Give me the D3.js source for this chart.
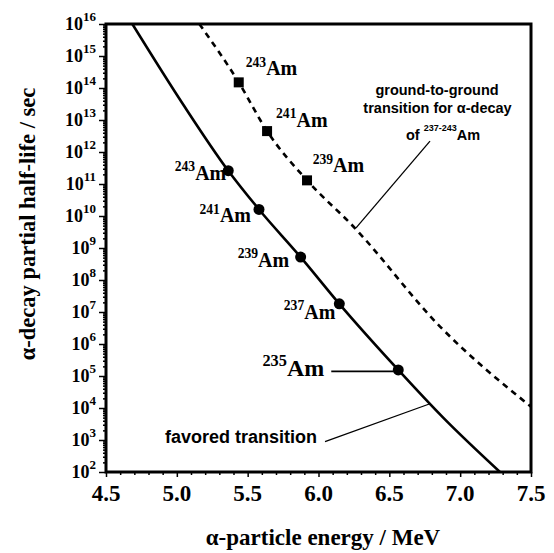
<!DOCTYPE html>
<html>
<head>
<meta charset="utf-8">
<script src="https://cdn.jsdelivr.net/npm/d3@7"></script>
<style>
  html, body { margin: 0; padding: 0; background: #fff; }
  svg { display: block; }
  .serif { font-family: "Liberation Serif", "Times New Roman", Times, serif; font-weight: bold; }
  .sans { font-family: "Liberation Sans", Arial, Helvetica, sans-serif; font-weight: bold; }
</style>
</head>
<body>
<svg id="chart" width="554" height="553"></svg>
<script>
// Alpha-decay systematics of americium isotopes

// Favored transitions (circles): mass number, alpha energy (MeV), partial half-life (s)
const favoredIsotopes = ["243", "241", "239", "237", "235"];
const favoredEnergy   = [5.363, 5.58, 5.874, 6.147, 6.563];
const favoredHalfLife = [2.6e11, 1.6e10, 5.2e8, 1.8e7, 1.55e5];

// Ground-to-ground transitions (squares)
const groundIsotopes = ["243", "241", "239"];
const groundEnergy   = [5.437, 5.637, 5.919];
const groundHalfLife = [1.5e14, 4.5e12, 1.3e11];

// Systematics curves
const favoredCurveEnergy   = [4.686, 5.046, 5.363, 5.58, 5.874, 6.147, 6.563, 6.88, 7.281];
const favoredCurveHalfLife = [1e16, 3e13, 2.6e11, 1.6e10, 5.2e8, 1.8e7, 1.55e5, 5e3, 1e2];
const groundCurveEnergy    = [5.159, 5.437, 5.637, 5.919, 6.246, 6.858, 7.5];
const groundCurveHalfLife  = [1e16, 1.5e14, 4.5e12, 1.3e11, 4.7e9, 3.5e6, 1.1e4];

// Axis ticks
const xTickLabels = ["4.5", "5.0", "5.5", "6.0", "6.5", "7.0", "7.5"];
const yTickExponents = [2, 3, 4, 5, 6, 7, 8, 9, 10, 11, 12, 13, 14, 15, 16];

const svg = d3.select("#chart");
const plotLeft = 106, plotRight = 531, plotTop = 24, plotBottom = 472;

const x = d3.scaleLinear().domain([4.5, 7.5]).range([plotLeft, plotRight]);
const y = d3.scaleLog().domain([1e2, 1e16]).range([plotBottom, plotTop]);

svg.append("defs").append("clipPath").attr("id", "plotClip")
  .append("rect").attr("x", plotLeft).attr("y", plotTop)
  .attr("width", plotRight - plotLeft).attr("height", plotBottom - plotTop);

// ---- axes ----
const xMajor = xTickLabels.map(Number);
const xMinor = d3.range(45, 76).map(d => d / 10).filter(v => !xMajor.some(m => Math.abs(m - v) < 1e-9));

svg.append("g").attr("transform", `translate(0,${plotBottom})`)
  .call(d3.axisBottom(x).tickValues(xMinor).tickSize(3).tickFormat(""));
svg.append("g").attr("transform", `translate(0,${plotBottom})`)
  .call(d3.axisBottom(x).tickValues(xMajor).tickSize(5).tickFormat(""));

const yMajor = yTickExponents.map(e => Math.pow(10, e));
const yMinor = [];
for (let e = 2; e < 16; e++) for (let m = 2; m <= 9; m++) yMinor.push(m * Math.pow(10, e));
svg.append("g").attr("transform", `translate(${plotLeft},0)`)
  .call(d3.axisLeft(y).tickValues(yMinor).tickSize(3).tickFormat(""));
svg.append("g").attr("transform", `translate(${plotLeft},0)`)
  .call(d3.axisLeft(y).tickValues(yMajor).tickSize(7).tickFormat(""));

svg.selectAll(".domain").remove();
svg.selectAll(".tick line").attr("stroke", "#000").attr("stroke-width", 1.5);

// frame
svg.append("rect")
  .attr("x", plotLeft).attr("y", plotTop)
  .attr("width", plotRight - plotLeft).attr("height", plotBottom - plotTop)
  .attr("fill", "none").attr("stroke", "#000").attr("stroke-width", 3);

// x tick labels
svg.append("g").selectAll("text").data(xTickLabels).join("text")
  .attr("class", "serif")
  .attr("x", d => x(+d)).attr("y", plotBottom + 29)
  .attr("text-anchor", "middle")
  .attr("font-size", 23)
  .text(d => d);

// y tick labels: 10 with superscript exponent
const yLab = svg.append("g").selectAll("text").data(yTickExponents).join("text")
  .attr("class", "serif")
  .attr("x", plotLeft - 10).attr("y", d => y(Math.pow(10, d)) + 6)
  .attr("text-anchor", "end")
  .attr("font-size", 18);
yLab.append("tspan").text("10");
yLab.append("tspan").attr("dy", -9).attr("font-size", 13).text(d => d);

// axis titles
svg.append("text").attr("class", "serif")
  .attr("x", 323).attr("y", 545)
  .attr("text-anchor", "middle").attr("font-size", 23)
  .text("\u03b1-particle energy / MeV");

svg.append("text").attr("class", "serif")
  .attr("transform", "translate(35,224) rotate(-90)")
  .attr("text-anchor", "middle").attr("font-size", 22.5)
  .text("\u03b1-decay partial half-life / sec");

// ---- curves ----
const line = d3.line()
  .x(d => x(d[0])).y(d => y(d[1]))
  .curve(d3.curveMonotoneX);

const plot = svg.append("g").attr("clip-path", "url(#plotClip)");

plot.append("path")
  .datum(favoredCurveEnergy.map((e, i) => [e, favoredCurveHalfLife[i]]))
  .attr("d", line)
  .attr("fill", "none").attr("stroke", "#000").attr("stroke-width", 2.6);

plot.append("path")
  .datum(groundCurveEnergy.map((e, i) => [e, groundCurveHalfLife[i]]))
  .attr("d", line)
  .attr("fill", "none").attr("stroke", "#000").attr("stroke-width", 2.6)
  .attr("stroke-dasharray", "6,5");

// ---- markers ----
const favored = favoredIsotopes.map((m, i) => ({ mass: m, e: favoredEnergy[i], t: favoredHalfLife[i] }));
const ground = groundIsotopes.map((m, i) => ({ mass: m, e: groundEnergy[i], t: groundHalfLife[i] }));

svg.append("g").selectAll("circle").data(favored).join("circle")
  .attr("cx", d => x(d.e)).attr("cy", d => y(d.t))
  .attr("r", 5.5).attr("fill", "#000");

svg.append("g").selectAll("rect").data(ground).join("rect")
  .attr("x", d => x(d.e) - 5).attr("y", d => y(d.t) - 5)
  .attr("width", 10).attr("height", 10).attr("fill", "#000");

// ---- isotope labels ----
// label placement relative to each marker: [dx, dy, anchor, size]
const favoredLabelLayout = [
  [-2, 9, "end", 20],
  [-8, 13, "end", 20],
  [-11.5, 9.7, "end", 20],
  [-4, 15, "end", 20],
  [-74, 6, "end", 24]
];
const groundLabelLayout = [
  [7, -7.3, "start", 20],
  [9, -4.4, "start", 20],
  [5.7, -8.3, "start", 20]
];

function isotopeLabels(data, layout) {
  const t = svg.append("g").selectAll("text").data(data).join("text")
    .attr("class", "serif")
    .attr("x", (d, i) => x(d.e) + layout[i][0])
    .attr("y", (d, i) => y(d.t) + layout[i][1])
    .attr("text-anchor", (d, i) => layout[i][2])
    .attr("font-size", (d, i) => layout[i][3]);
  t.append("tspan")
    .attr("font-size", (d, i) => layout[i][3] * 0.68)
    .attr("dy", (d, i) => -layout[i][3] * 0.42)
    .text(d => d.mass);
  t.append("tspan")
    .attr("dy", (d, i) => layout[i][3] * 0.42)
    .text("Am");
}
isotopeLabels(favored, favoredLabelLayout);
isotopeLabels(ground, groundLabelLayout);

// leader from the 235Am label to its marker
const am235 = favored[4];
svg.append("line")
  .attr("x1", x(am235.e) - 67).attr("x2", x(am235.e) - 5)
  .attr("y1", y(am235.t) + 1.5).attr("y2", y(am235.t) + 1.5)
  .attr("stroke", "#000").attr("stroke-width", 1.8);

// ---- curve annotations ----
const groundNote = svg.append("g").attr("class", "sans").attr("font-size", 14.5).attr("text-anchor", "middle");
groundNote.append("text").attr("x", 437).attr("y", 95).text("ground-to-ground");
groundNote.append("text").attr("x", 437.5).attr("y", 112.5).text("transition for \u03b1-decay");
const ofLine = groundNote.append("text").attr("x", 443).attr("y", 140);
ofLine.append("tspan").text("of ");
ofLine.append("tspan").attr("font-size", 9).attr("dy", -9).text("237-243");
ofLine.append("tspan").attr("dy", 9).text("Am");

svg.append("line")
  .attr("x1", x(6.787)).attr("y1", y(Math.pow(10, 12.34)))
  .attr("x2", x(6.265)).attr("y2", y(Math.pow(10, 9.63)))
  .attr("stroke", "#000").attr("stroke-width", 1.3);

svg.append("text").attr("class", "sans")
  .attr("x", 165).attr("y", 443).attr("font-size", 18)
  .text("favored transition");

svg.append("line")
  .attr("x1", x(6.046)).attr("y1", y(Math.pow(10, 2.95)))
  .attr("x2", x(6.782)).attr("y2", y(Math.pow(10, 4.125)))
  .attr("stroke", "#000").attr("stroke-width", 1.3);
</script>
</body>
</html>
